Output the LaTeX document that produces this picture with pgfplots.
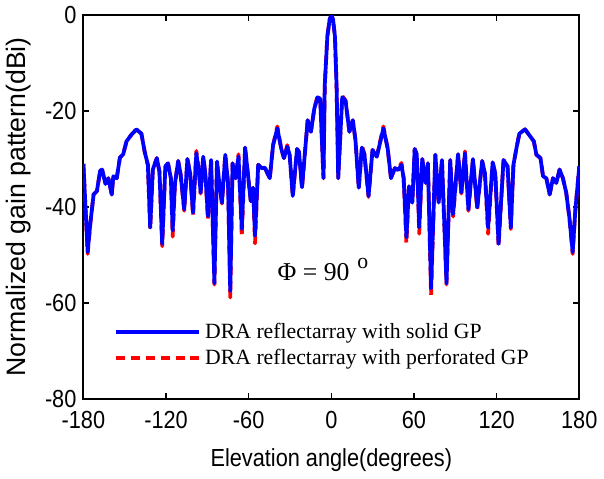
\documentclass[border=0pt]{standalone}
\usepackage{pgfplots}
\pgfplotsset{compat=1.18}
\usepackage{fontspec}
\setmainfont{Liberation Serif}
\setsansfont{Liberation Sans}
\newfontfamily\narrowsf[FakeStretch=0.88]{Liberation Sans}

\begin{document}
\begin{tikzpicture}
\begin{axis}[
    scale only axis,
    width=251pt, height=194pt,
    xmin=-180, xmax=180, ymin=-80, ymax=0,
    xtick={-180,-120,...,180},
    ytick={-80,-60,...,0},
    tick align=inside,
    major tick length=3pt,
    axis line style={line width=1pt},
    tick style={line width=0.8pt, black},
    /pgf/number format/assume math mode=true,
    ticklabel style={font=\fontsize{12.5}{13}\narrowsf},
    xticklabel style={yshift=-3pt},
    xlabel={Elevation angle(degrees)},
    xlabel style={font=\fontsize{12.5}{13}\narrowsf, yshift=-3pt},
    ylabel={Normalized gain pattern(dBi)},
    ylabel style={font=\fontsize{13.5}{14}\sffamily},
    legend style={draw=none, fill=none, at={(0.05,0.14)}, anchor=west,
        font=\fontsize{11}{12.5}\selectfont},
    legend cell align=left,
    legend image code/.code={\path (0pt,0pt) -- (42pt,0pt);
        \draw[#1] (0pt,0pt) -- (31pt,0pt);},
]
% perforated GP (red, dashed) drawn first, underneath
\addplot[red, line width=1.9pt, dash pattern=on 4.5pt off 3pt, line join=round, forget plot] table {
-180 -31
-178.5 -40
-176.9 -49.8
-175 -43.5
-172.6 -37.4
-170.2 -36.7
-167.8 -32.4
-166.4 -32.2
-164 -35.2
-161.9 -34.0
-159.4 -37.4
-158.3 -33.6
-155.8 -34.0
-153.5 -29.7
-151.1 -29.0
-148.7 -26.3
-145.1 -24.9
-141.5 -23.8
-137.9 -24.7
-135.5 -28.5
-133.2 -31.2
-131.5 -44.6
-129.6 -32.2
-126.7 -29.8
-124.8 -32.6
-122.8 -48.2
-120.5 -31.5
-118.6 -30.9
-116.5 -34
-115.2 -46.2
-113.5 -35
-111.2 -30.4
-109.5 -33
-106.8 -40.8
-104.5 -30.0
-102.5 -33
-100.4 -41.8
-98 -28.3
-96 -33
-94.9 -37.2
-93 -29.5
-91.5 -33
-89.6 -42.6
-87.3 -30.2
-84.9 -56.2
-83 -30.5
-81 -36
-79.4 -39.3
-77 -29.1
-75 -35
-73.4 -58.9
-71.7 -30.9
-69.5 -34
-67.4 -29.0
-65 -46.2
-62.6 -27.6
-58.5 -38.8
-56.8 -36
-55.4 -47.6
-53.1 -31.2
-50.7 -31.9
-48.3 -31.8
-44.7 -34.0
-42.3 -27.1
-39.2 -23.2
-36.4 -27.8
-34.4 -29.8
-32 -27.1
-30.3 -29.1
-28 -37.9
-24.9 -27.9
-23.5 -28.5
-21.3 -36.1
-17.2 -21.9
-14.8 -24.3
-12.4 -19.5
-10 -16.8
-8.1 -17.2
-5.7 -34.0
-4.8 -14.7
-2.9 -4.4
-1.2 -0.8
0 0
1.2 -0.8
2.6 -4.4
3.8 -14.7
5.0 -34.0
7.9 -16.8
10.3 -17.8
13.1 -24.3
15.6 -21.9
17.5 -26
19.9 -36.2
22.2 -27.2
24 -29
27 -37.9
29.9 -28.1
33 -29.5
37.8 -23.2
40.9 -27.8
43.3 -34.0
46.1 -31.9
48.5 -32.3
50.9 -30.8
52.5 -34
54.5 -47.6
56.4 -35.7
58.8 -39.1
60.5 -27.9
62 -29
63.8 -45.6
66 -30.0
68.4 -35
70.1 -30.9
72.4 -58.5
75.5 -29.1
77.9 -39.3
80.3 -30.2
83.6 -56.2
86.3 -30.2
88.4 -42.0
92 -29.0
94.4 -37.2
97 -28.4
99.5 -40.8
102.8 -30.0
105.9 -40.4
109.5 -30.4
111.5 -33
113.8 -45.6
117.1 -30.7
119 -33
121.4 -48.2
125 -30.2
127.9 -31.5
130.3 -44.6
132.2 -31.2
134.6 -27.4
136.5 -24.7
140.6 -23.8
144.2 -25.2
147 -26.3
148.9 -29.1
151.8 -29.8
153.7 -33.6
156.1 -34.0
158.5 -37.4
160.9 -34.0
163.3 -35
165.7 -32.2
168.1 -34.0
170.5 -37
172.8 -42.2
175.2 -49.8
177.1 -40.8
180 -31.5
};
% solid GP (blue)
\addplot[blue, line width=1.9pt, line join=round] table {
-180 -31
-178.5 -40
-176.9 -49.4
-175 -43.5
-172.6 -37.4
-170.2 -36.7
-167.8 -32.4
-166.4 -32.2
-164 -35.2
-161.9 -34.0
-159.4 -37.4
-158.3 -33.6
-155.8 -34.0
-153.5 -29.7
-151.1 -29.0
-148.7 -26.3
-145.1 -24.9
-141.5 -23.8
-137.9 -24.7
-135.5 -28.5
-133.2 -31.2
-131.5 -44.3
-129.6 -32.2
-126.7 -29.8
-124.8 -32.6
-122.8 -47.7
-120.5 -31.5
-118.6 -30.9
-116.5 -34
-115.2 -44.9
-113.5 -35
-111.2 -30.4
-109.5 -33
-106.8 -40.5
-104.5 -30.0
-102.5 -33
-100.4 -41.2
-98 -28.8
-96 -33
-94.9 -37.0
-93 -29.5
-91.5 -33
-89.6 -41.9
-87.3 -30.2
-84.9 -55.9
-83 -30.5
-81 -36
-79.4 -39.1
-77 -29.1
-75 -35
-73.4 -57.5
-71.7 -30.9
-69.5 -34
-67.4 -29.5
-65 -44.6
-62.6 -27.6
-58.5 -38.8
-56.8 -36
-55.4 -46.0
-53.1 -31.2
-50.7 -31.9
-48.3 -31.8
-44.7 -34.0
-42.3 -27.1
-39.2 -23.6
-36.4 -27.8
-34.4 -29.8
-32 -27.4
-30.3 -29.1
-28 -37.7
-24.9 -27.9
-23.5 -28.5
-21.3 -35.9
-17.2 -21.9
-14.8 -24.3
-12.4 -19.5
-10 -17.1
-8.1 -17.4
-5.7 -34.0
-4.8 -14.7
-2.9 -4.4
-1.2 -0.8
0 0
1.2 -0.8
2.6 -4.4
3.8 -14.7
5.0 -34.0
7.9 -17.1
10.3 -17.8
13.1 -24.3
15.6 -21.9
17.5 -26
19.9 -36.0
22.2 -27.6
24 -29
27 -37.7
29.9 -28.1
33 -29.5
37.8 -23.6
40.9 -27.8
43.3 -34.0
46.1 -31.9
48.5 -32.3
50.9 -31.2
52.5 -34
54.5 -46.3
56.4 -35.7
58.8 -39.1
60.5 -27.9
62 -29
63.8 -44.3
66 -30.0
68.4 -35
70.1 -30.9
72.4 -57.0
75.5 -29.1
77.9 -39.1
80.3 -30.2
83.6 -55.9
86.3 -30.2
88.4 -41.5
92 -29.0
94.4 -37.0
97 -28.8
99.5 -40.5
102.8 -30.0
105.9 -40.1
109.5 -30.4
111.5 -33
113.8 -44.3
117.1 -30.7
119 -33
121.4 -47.7
125 -30.2
127.9 -31.5
130.3 -44.3
132.2 -31.2
134.6 -27.4
136.5 -24.7
140.6 -23.8
144.2 -25.2
147 -26.3
148.9 -29.1
151.8 -29.8
153.7 -33.6
156.1 -34.0
158.5 -37.4
160.9 -34.0
163.3 -35
165.7 -32.2
168.1 -34.0
170.5 -37
172.8 -42.2
175.2 -49.4
177.1 -40.8
180 -31.5
};
\addlegendentry{DRA reflectarray with solid GP}
\addlegendimage{red, line width=1.9pt, dash pattern=on 4.5pt off 3pt}
\addlegendentry{DRA reflectarray with perforated GP}
\node[anchor=west, font=\fontsize{13}{14}\selectfont] at (axis cs:-44,-53)
    {Φ = 90\hspace{4pt}\raisebox{1.0ex}{\fontsize{11}{11}\selectfont o}};
\end{axis}
\end{tikzpicture}
\end{document}
